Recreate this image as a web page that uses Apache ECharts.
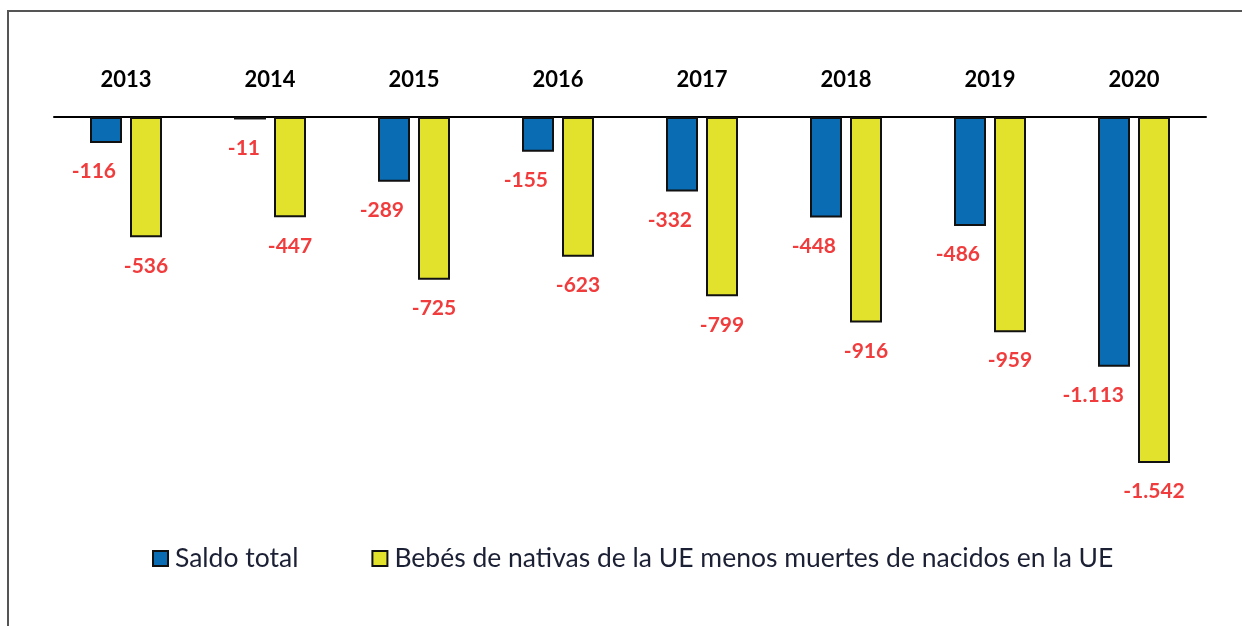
<!DOCTYPE html>
<html>
<head>
<meta charset="utf-8">
<script src="https://cdn.jsdelivr.net/npm/echarts@6/dist/echarts.min.js"></script>
<style>
  html, body { margin: 0; padding: 0; background: #fff; }
  #chart { width: 1242px; height: 626px; }
</style>
</head>
<body>
<div id="chart"></div>
<script>
// años
const years = ['2013', '2014', '2015', '2016', '2017', '2018', '2019', '2020'];
// saldo total (miles)
const saldoTotal = [-116, -11, -289, -155, -332, -448, -486, -1113];
// bebés de nativas de la UE menos muertes de nacidos en la UE
const bebesNativas = [-536, -447, -725, -623, -799, -916, -959, -1542];

const seriesNames = ['Saldo total', 'Bebés de nativas de la UE menos muertes de nacidos en la UE'];

// formato español: punto para los miles
function fmt(v) {
  const s = Math.abs(v).toString().replace(/\B(?=(\d{3})+(?!\d))/g, '.');
  return (v < 0 ? '-' : '') + s;
}

const chart = echarts.init(document.getElementById('chart'));

const baseLabel = {
  show: true,
  position: 'bottom',
  distance: 18,
  color: '#f03c3c',
  fontFamily: 'Lato',
  fontWeight: 'bold',
  fontSize: 21,
  textBorderColor: '#fff',
  textBorderWidth: 2,
  formatter: p => fmt(p.value)
};

const option = {
  backgroundColor: '#fff',
  animation: false,
  graphic: [
    {
      type: 'polyline',
      shape: { points: [[8, 700], [8, 11], [1300, 11]] },
      style: { fill: 'none', stroke: '#555', lineWidth: 2 }
    }
  ],
  grid: {
    left: 54,
    top: 117,
    width: 1152,
    height: 359
  },
  legend: {
    left: 147,
    top: 540,
    itemWidth: 15,
    itemHeight: 15,
    itemGap: 73,
    icon: 'rect',
    textStyle: {
      fontFamily: 'Lato',
      fontSize: 26.5,
      color: '#1c2035',
      padding: [0, 0, 0, 2]
    },
    data: seriesNames
  },
  xAxis: {
    type: 'category',
    position: 'top',
    data: years,
    axisLine: { lineStyle: { color: '#000', width: 2 } },
    axisTick: { show: false },
    axisLabel: {
      margin: 26,
      color: '#000',
      fontFamily: 'Lato',
      fontWeight: 'bold',
      fontSize: 22
    }
  },
  yAxis: {
    type: 'value',
    min: -1600,
    max: 0,
    show: false,
    splitLine: { show: false }
  },
  series: [
    {
      name: seriesNames[0],
      type: 'bar',
      data: saldoTotal,
      barWidth: 32,
      barGap: '25%',
      itemStyle: { color: '#0a6db4', borderColor: '#111', borderWidth: 2 },
      // etiqueta alineada a la derecha, un poco a la izquierda del borde de la barra
      label: Object.assign({}, baseLabel, { align: 'right', offset: [10, 0] })
    },
    {
      name: seriesNames[1],
      type: 'bar',
      data: bebesNativas,
      barWidth: 32,
      itemStyle: { color: '#e2e22c', borderColor: '#111', borderWidth: 2 },
      label: baseLabel
    }
  ]
};

chart.setOption(option);
</script>
</body>
</html>
